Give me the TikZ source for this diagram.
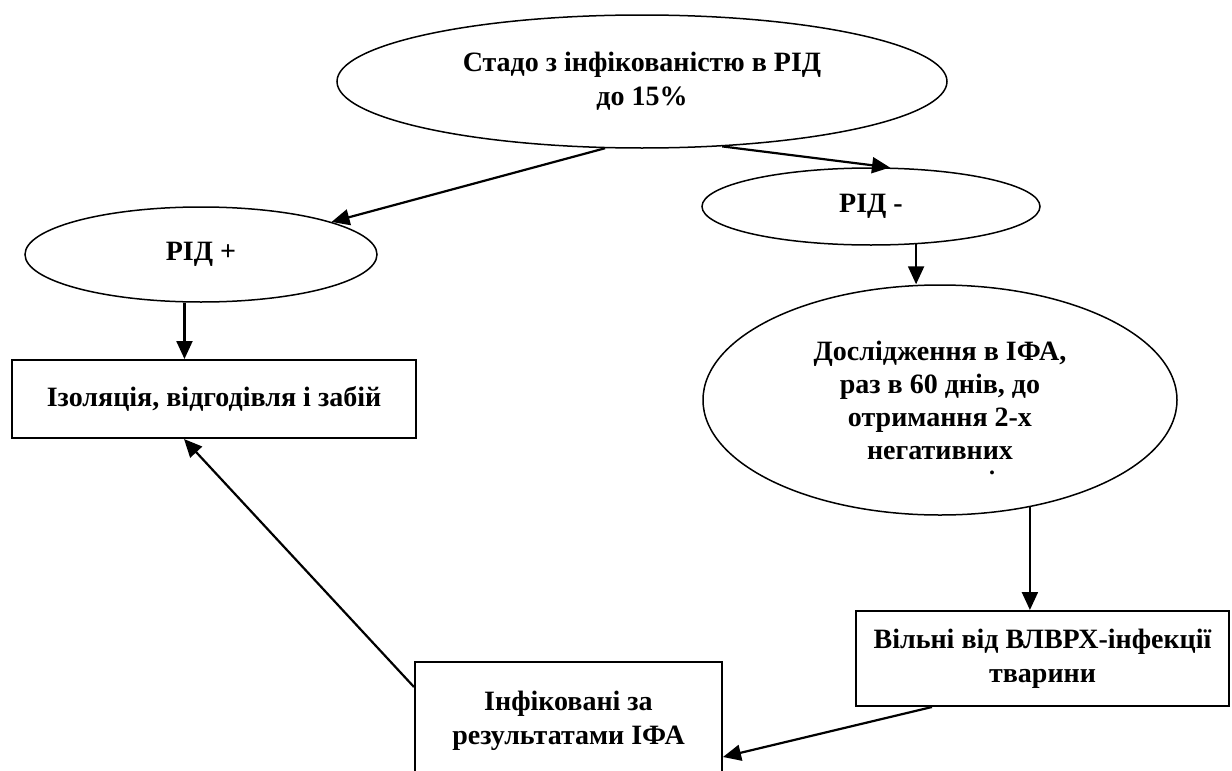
\documentclass[tikz,border=0pt]{standalone}
\usepackage{fontspec}
\setmainfont{Liberation Serif}
\usetikzlibrary{shapes.geometric,arrows.meta}

\begin{document}
\begin{tikzpicture}[x=0.5pt,y=-0.5pt,
        oval/.style={draw, ellipse, line width=0.75pt, inner sep=0pt, align=center,
            font=\bfseries\fontsize{14}{17}\selectfont},
        card/.style={draw, rectangle, line width=1pt, inner sep=0pt, align=center,
            font=\bfseries\fontsize{14}{17}\selectfont},
        arr/.style={line width=1.1pt, -{Triangle[length=9pt,width=8pt]}}]
    \useasboundingbox (0,0) rectangle (1232,771);
    \clip (0,0) rectangle (1232,771);

    % ovals
    \node [oval, minimum width=305pt, minimum height=66.5pt] (stado) at (642,81.5) {Стадо з інфікованістю в РІД\\до 15\%};
    \node [oval, minimum width=176pt, minimum height=47.5pt] (ridplus) at (201,254.5) {РІД +};
    \node [oval, minimum width=169pt, minimum height=38.5pt] (ridminus) at (871,206.5) {РІД -};
    \node [oval, minimum width=237pt, minimum height=115pt, font=\bfseries\fontsize{14}{16.5}\selectfont] (dosl) at (940,400) {Дослідження в ІФА,\\раз в 60 днів, до\\отримання 2-х\\негативних};
    \node [font=\bfseries\fontsize{12}{14}\selectfont, inner sep=0pt] (dot) at (992,473) {.};

    % boxes
    \node [card, minimum width=202pt, minimum height=39pt] (izol) at (214,399) {Ізоляція, відгодівля і забій};
    \node [card, minimum width=186.5pt, minimum height=47.5pt] (vilni) at (1042.5,658.5) {Вільні від ВЛВРХ-інфекції\\тварини};
    \node [card, minimum width=153.5pt, minimum height=59pt] (inf) at (568.5,721) {Інфіковані за\\результатами ІФА};

    % arrows
    \draw [arr] (stado.241) -- (ridplus.14);
    \draw [arr] (stado.321) -- (ridminus.64);
    \draw [arr] (ridplus.251) -- (ridplus.251 |- izol.north);
    \draw [arr] (ridminus.320) -- (ridminus.320 |- dosl.north);
    \draw [arr] (dosl.310) -- (dosl.310 |- vilni.north);
    \draw [arr] ([xshift=38.5pt]vilni.south west) -- ([yshift=-18pt]inf.east);
    \draw [arr] ([yshift=17pt]inf.west) -- ([xshift=86.5pt]izol.south west);
\end{tikzpicture}
\end{document}
